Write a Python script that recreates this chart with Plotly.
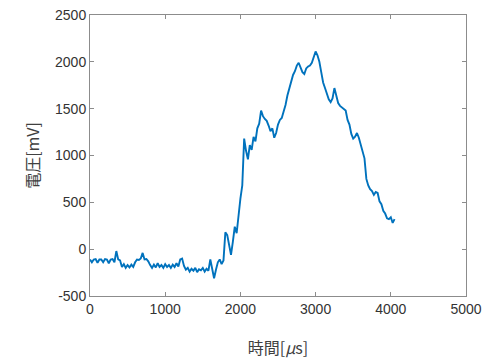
import plotly.graph_objects as go

time_us = [i * 25 for i in range(163)]
voltage_mv = [
    # 0 - 375
    -110, -140, -110, -105, -145, -110, -110, -140, -105, -110, -150, -110, -105, -140, -20, -110,
    # 400 - 575
    -120, -190, -160, -200, -170, -195, -165, -190,
    # 600 - 775
    -140, -110, -115, -100, -40, -110, -105, -130,
    # 800 - 1175
    -170, -200, -165, -195, -150, -190, -170, -200, -160, -190, -170, -200, -165, -190, -150, -185,
    # 1200 - 1225
    -110, -100,
    # 1250 - 1575
    -180, -220, -200, -240, -210, -230, -200, -245, -215, -225, -200, -240, -210, -230,
    # 1600 - 1775
    -110, -200, -310, -220, -140, -110, -160, -120,
    # 1800 - 2025
    180, 150, 40, -60, 80, 240, 170, 380, 540, 680,
    # 2050 - 2275
    1180, 1050, 960, 1110, 1060, 1200, 1150, 1290, 1340, 1480,
    # 2300 - 2525
    1420, 1390, 1370, 1320, 1260, 1290, 1190, 1240, 1330, 1380,
    # 2550 - 2775
    1400, 1470, 1540, 1640, 1720, 1790, 1860, 1900, 1960, 1990,
    # 2800 - 3025
    1940, 1890, 1870, 1930, 1950, 1960, 1990, 2060, 2110, 2070,
    # 3050 - 3275
    2000, 1890, 1780, 1720, 1650, 1600, 1570, 1610, 1720, 1650,
    # 3300 - 3525
    1560, 1530, 1510, 1490, 1480, 1380, 1330, 1230, 1180, 1200,
    # 3550 - 3775
    1240, 1190, 1120, 1040, 970, 750, 680, 640, 620, 580,
    # 3800 - 4050
    610, 600, 510, 480, 410, 380, 330, 320, 340, 280, 320,
]

x_ticks = [0, 1000, 2000, 3000, 4000, 5000]
y_ticks = [-500, 0, 500, 1000, 1500, 2000, 2500]

fig = go.Figure()
fig.add_trace(go.Scatter(
    x=time_us, y=voltage_mv, mode="lines",
    line=dict(color="#0072BD", width=1.9),
    showlegend=False,
))

axis_common = dict(
    showgrid=False, zeroline=False, showline=True, linecolor="#8c8c8c", linewidth=1,
    mirror="ticks", ticks="inside", ticklen=4, tickcolor="#8c8c8c", automargin=False,
    tickfont=dict(family="Liberation Sans, Arial, sans-serif", size=14, color="#333333"),
)

fig.update_layout(
    width=486, height=363,
    margin=dict(l=90, r=20, t=15, b=67),
    paper_bgcolor="white", plot_bgcolor="white",
    xaxis=dict(range=[0, 5000], tickvals=x_ticks, ticktext=[str(v) for v in x_ticks],
               title=dict(text="時間[<i>μ</i>s]", standoff=27,
                          font=dict(family="Noto Sans CJK JP", size=16, color="#404040")),
               **axis_common),
    yaxis=dict(range=[-500, 2500], tickvals=y_ticks, ticktext=[str(v) for v in y_ticks],
               title=dict(text="電圧[mV]", standoff=11,
                          font=dict(family="Noto Sans CJK JP", size=16, color="#404040")),
               **axis_common),
)

fig.write_html("out.html", config={"displayModeBar": False},
               post_script="document.body.style.margin='0';")
